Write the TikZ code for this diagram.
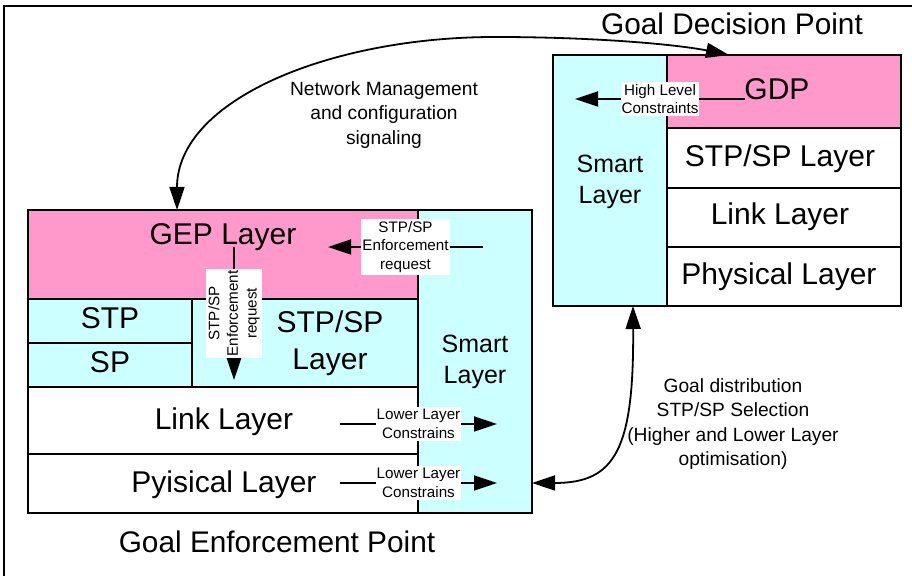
\documentclass[tikz,border=0pt]{standalone}
\usepackage{fontspec}
\setmainfont{Liberation Sans}
\usepackage{xcolor}
\usetikzlibrary{arrows.meta, positioning}
\definecolor{gepPink}{RGB}{255,153,204}
\definecolor{smartCyan}{RGB}{204,255,255}

\begin{document}
\begin{tikzpicture}[x=0.5pt, y=0.5pt,
    layer/.style={draw, line width=0.9pt},
    big/.style={font=\fontsize{15}{18.5}\selectfont, align=center, inner sep=0pt},
    title/.style={font=\fontsize{14.9}{17}\selectfont, inner sep=0pt},
    smart/.style={font=\fontsize{12.5}{15.8}\selectfont, align=center, inner sep=0pt},
    note/.style={font=\fontsize{9.6}{12.3}\selectfont, align=center, inner sep=0pt},
    tag/.style={fill=white, inner xsep=0.5pt, inner ysep=1pt, align=center, font=\fontsize{7.6}{9.3}\selectfont},
    arrow/.style={line width=0.9pt, -{Triangle[length=11.5pt, width=7.5pt]}},
    twoway/.style={line width=0.9pt, {Triangle[length=11.5pt, width=7.5pt]}-{Triangle[length=11.5pt, width=7.5pt]}}]

    \useasboundingbox (0,0) rectangle (912,-576);
    \draw [line width=1pt] (4,-576) -- (4,-6) -- (912,-6);

    % Goal Enforcement Point
    \filldraw [layer, fill=gepPink] (28,-210) rectangle (418,-299);
    \filldraw [layer, fill=smartCyan] (418,-210) rectangle (532,-513);
    \filldraw [layer, fill=smartCyan] (28,-299) rectangle (192,-343);
    \filldraw [layer, fill=smartCyan] (28,-343) rectangle (192,-387);
    \filldraw [layer, fill=smartCyan] (192,-299) rectangle (418,-387);
    \draw [layer] (28,-387) rectangle (418,-454);
    \draw [layer] (28,-454) rectangle (418,-513);

    \node [big, anchor=base] (gepText) at (223,-245) {GEP Layer};
    \node [big, anchor=base] (stp) at (110,-329) {STP};
    \node [big, anchor=base] (sp) at (110,-373) {SP};
    \node [big] (stpsp) at (330,-343) {STP/SP\\Layer};
    \node [smart] (smartL) at (475,-362) {Smart\\Layer};
    \node [big, anchor=base] (linkL) at (224,-430) {Link Layer};
    \node [big, anchor=base] (physL) at (224,-493) {Pyisical Layer};
    \node [title, anchor=base] (gep) at (277,-553) {Goal Enforcement Point};

    % Goal Decision Point
    \filldraw [layer, fill=smartCyan] (553,-55) rectangle (667,-306);
    \filldraw [layer, fill=gepPink] (667,-55) rectangle (901,-128);
    \draw [layer] (667,-128) rectangle (901,-188);
    \draw [layer] (667,-188) rectangle (901,-247);
    \draw [layer] (667,-247) rectangle (901,-306);

    \node [big, anchor=base] (gdpText) at (777,-100) {GDP};
    \node [big, anchor=base] (stpspR) at (780,-167) {STP/SP Layer};
    \node [big, anchor=base] (linkR) at (780,-225) {Link Layer};
    \node [big, anchor=base] (physR) at (779,-285) {Physical Layer};
    \node [smart] (smartR) at (610,-182) {Smart\\Layer};
    \node [title, anchor=base] (gdp) at (732,-35) {Goal Decision Point};

    % Signaling notes
    \node [note] (netMgmt) at (384,-115) {Network Management\\and configuration\\signaling};
    \node [note] (goalDist) at (733,-424) {Goal distribution\\STP/SP Selection\\(Higher and Lower Layer\\optimisation)};

    % Arrow ends
    \coordinate (gepIn) at (177,-210);
    \coordinate (gdpIn) at (729,-55);
    \coordinate (gdpOut) at (633,-306);
    \coordinate (smartIn) at (532,-483);
    \coordinate (gdpLine) at (745,-99);
    \coordinate (smartRin) at (575,-99);
    \coordinate (smartLout) at (483,-247);
    \coordinate (gepHin) at (328,-247);
    \coordinate (gepDown) at (234,-247);
    \coordinate (stpspIn) at (234,-380);
    \coordinate (linkOut) at (340,-424);
    \coordinate (linkIn) at (497,-424);
    \coordinate (physOut) at (340,-483);
    \coordinate (physIn) at (497,-483);

    % Arrows
    \draw [twoway] (gepIn) .. controls (177,-100) and (330,-37) .. (495,-37)
        .. controls (600,-37) and (680,-45) .. (gdpIn);
    \draw [twoway] (gdpOut) .. controls (634,-450) and (615,-483) .. (smartIn);
    \draw [arrow] (gdpLine) -- node [tag] {High Level\\Constraints} (smartRin);
    \draw [arrow] (smartLout) -- node [tag] {STP/SP\\Enforcement\\request} (gepHin);
    \draw [arrow] (gepDown) -- node [tag, rotate=90] {STP/SP\\Enforcement\\request} (stpspIn);
    \draw [arrow] (linkOut) -- node [tag] {Lower Layer\\Constrains} (linkIn);
    \draw [arrow] (physOut) -- node [tag] {Lower Layer\\Constrains} (physIn);
\end{tikzpicture}
\end{document}
